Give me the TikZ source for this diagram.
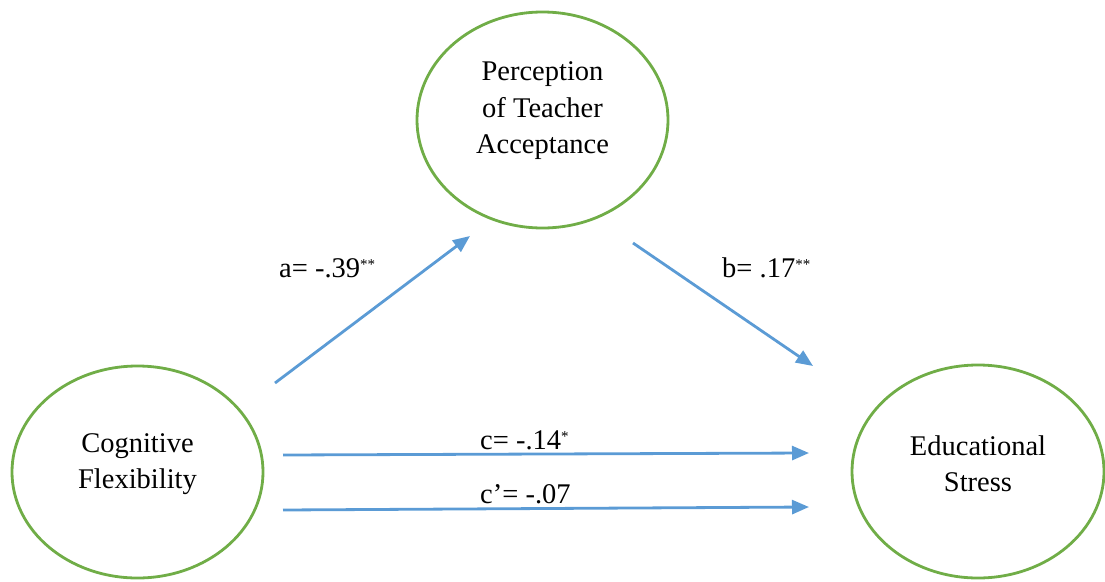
\documentclass[tikz,border=0pt]{standalone}
\usepackage{fontspec}
\setmainfont{Liberation Serif}
\usetikzlibrary{shapes.geometric,arrows.meta}
\definecolor{egreen}{HTML}{70AD47}
\definecolor{ablue}{HTML}{5B9BD5}
\newcommand{\sig}[1]{\raisebox{0.55ex}{\fontsize{15}{15}\selectfont #1}}
\begin{document}
\begin{tikzpicture}[x=1pt,y=-1pt,
  var/.style={ellipse,draw=egreen,line width=2.8pt,inner sep=0pt},
  vtext/.style={align=center,inner sep=0pt,font=\fontsize{28.5}{36.5}\selectfont},
  conn/.style={draw=ablue,line width=2.8pt,-{Triangle[length=17pt,width=14pt]}},
  lbl/.style={font=\fontsize{28.5}{30}\selectfont,inner sep=0pt,anchor=base west}]
\useasboundingbox (0,0) rectangle (1105,581);
% variables
\node[var,minimum width=251pt,minimum height=216pt] (m) at (542.5,120) {};
\node[var,minimum width=251pt,minimum height=212pt] (x) at (137.5,472) {};
\node[var,minimum width=252pt,minimum height=213pt] (y) at (978,471.5) {};
\node[vtext] (mt) at ([yshift=9pt]m.center) {Perception\\of Teacher\\Acceptance};
\node[vtext] (xt) at ([yshift=8pt]x.center) {Cognitive\\Flexibility};
\node[vtext] (yt) at ([yshift=8pt]y.center) {Educational\\Stress};
% connector ends
\coordinate (a0) at (275,383);
\coordinate (a1) at (470,236);
\coordinate (b0) at (633,243);
\coordinate (b1) at (813,366);
\coordinate (c0) at (283,455);
\coordinate (c1) at (809,453);
\coordinate (d0) at (283,510);
\coordinate (d1) at (809,507);
\draw[conn] (a0) -- (a1);
\draw[conn] (b0) -- (b1);
\draw[conn] (c0) -- (c1);
\draw[conn] (d0) -- (d1);
% labels
\node[lbl] (la) at (279,277) {a= -.39\sig{**}};
\node[lbl] (lb) at (722,277) {b= .17\sig{**}};
\node[lbl] (lc) at (480,449) {c= -.14\sig{*}};
\node[lbl] (ld) at (480,503) {c’= -.07};
\end{tikzpicture}
\end{document}
